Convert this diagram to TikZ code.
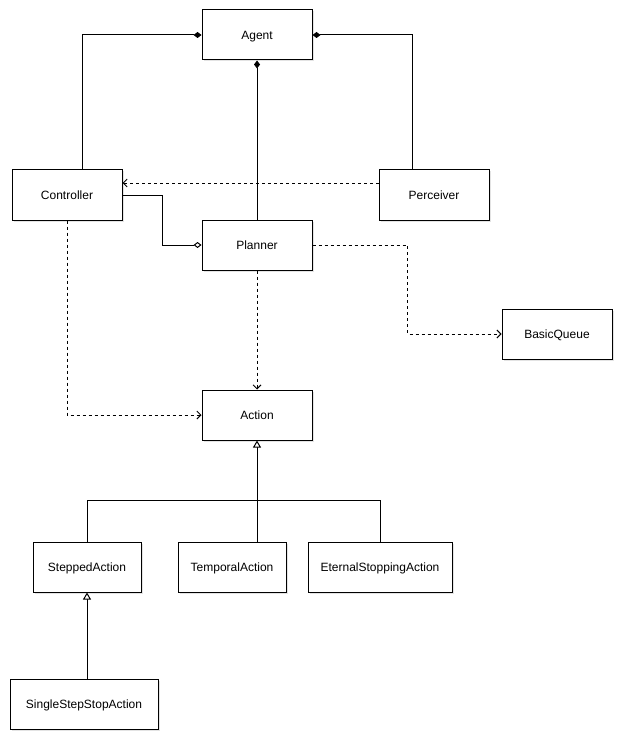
\documentclass[tikz,border=0pt]{standalone}
\usepackage{fontspec}
\setmainfont{Liberation Sans}
\usetikzlibrary{arrows.meta,shadows}
\begin{document}
\begin{tikzpicture}[x=1pt,y=-1pt,
  box/.style={draw=black,fill=white,line width=1pt,minimum height=50pt,
    font=\fontsize{12}{14}\selectfont,inner sep=2pt,text depth=0pt,
    drop shadow={shadow xshift=1.5pt,shadow yshift=-1.5pt,fill=black!18,opacity=0.6}},
  link/.style={draw=black,line width=1pt},
  dep/.style={link,dash pattern=on 3pt off 3pt,-{Straight Barb[length=4pt,width=8pt,line width=0.9pt]}},
  comp/.style={link,-{Diamond[length=8pt,width=6pt]}},
  aggr/.style={link,-{Diamond[open,length=8pt,width=6pt,fill=white]}},
  inherit/.style={link,-{Triangle[open,length=7pt,width=8pt,fill=white]}}]
\useasboundingbox (0,0) rectangle (629,746);

% classes
\node[box,minimum width=110pt] (agent)   at (257,35)  {Agent};
\node[box,minimum width=110pt] (ctrl)    at (67,195)  {Controller};
\node[box,minimum width=110pt] (perc)    at (434,195) {Perceiver};
\node[box,minimum width=110pt] (plan)    at (257,245) {Planner};
\node[box,minimum width=110pt] (bq)      at (557,334) {BasicQueue};
\node[box,minimum width=110pt] (act)     at (257,415) {Action};
\node[box,minimum width=108pt] (stepped) at (87,567)  {SteppedAction};
\node[box,minimum width=108pt] (temp)    at (232,567) {TemporalAction};
\node[box,minimum width=144pt] (etern)   at (380,567) {EternalStoppingAction};
\node[box,minimum width=148pt] (single)  at (84,704)  {SingleStepStopAction};

% composition into Agent
\draw[comp] ([xshift=15pt]ctrl.north) |- (agent.west);
\draw[comp] ([xshift=-22pt]perc.north) |- (agent.east);
\draw[comp] (plan.north) -- (agent.south);

% aggregation Controller -> Planner
\draw[aggr] (ctrl.east) -- ++(40,0) |- (plan.west);

% dependencies
\draw[dep] ([yshift=12pt]perc.west) -- ([yshift=12pt]ctrl.east);
\draw[dep] (plan.east) -- ++(95,0) |- (bq.west);
\draw[dep] (plan.south) -- (act.north);
\draw[dep] (ctrl.south) |- (act.west);

% generalization
\coordinate (jn) at (257,500.5);
\draw[link] (stepped.north) |- (jn);
\draw[link] (jn) -| (etern.north);
\draw[inherit] (act.south |- temp.north) -- (act.south);
\draw[inherit] (stepped.south |- single.north) -- (stepped.south);
\end{tikzpicture}
\end{document}
